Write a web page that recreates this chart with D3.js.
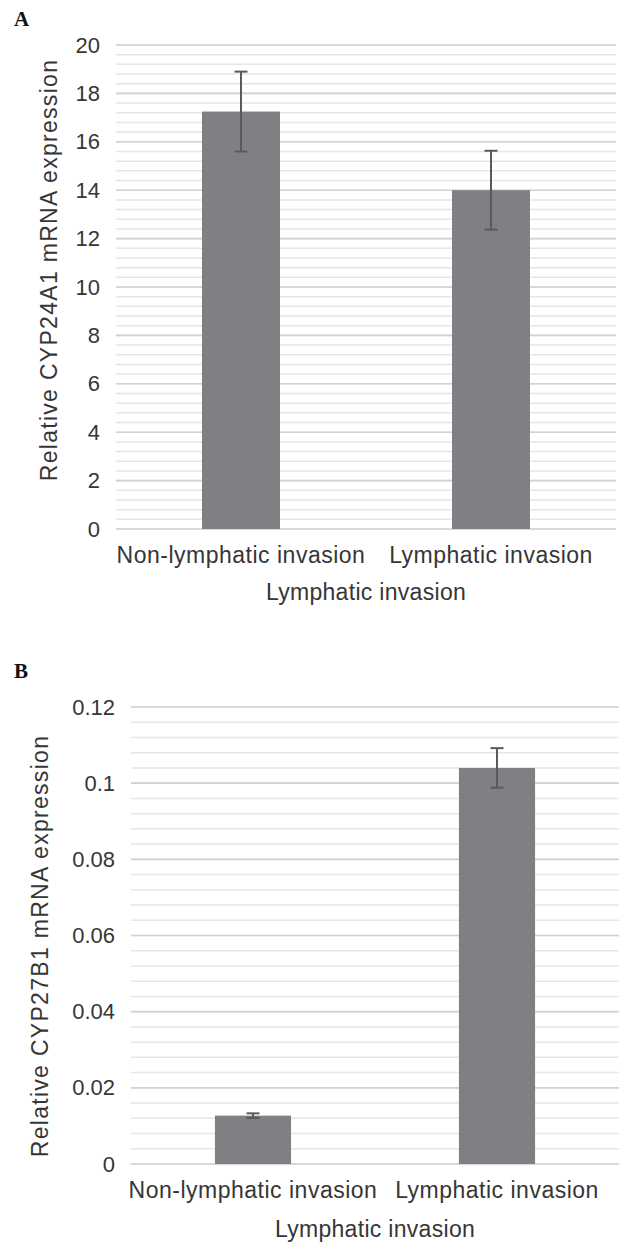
<!DOCTYPE html>
<html>
<head>
<meta charset="utf-8">
<script src="https://cdn.jsdelivr.net/npm/d3@7"></script>
<style>
  body { margin: 0; background: #fff; }
  svg text { font-family: "Liberation Sans", Arial, sans-serif; fill: #363636; }
</style>
</head>
<body>
<svg width="622" height="1242"></svg>
<script>
// Data
const categories = ["Non-lymphatic invasion", "Lymphatic invasion"];
const cyp24Means = [17.25, 14.0];
const cyp24Errors = [1.65, 1.63];
const cyp27Means = [0.0127, 0.104];
const cyp27Errors = [0.0006, 0.0052];
const cyp24Ticks = [0, 2, 4, 6, 8, 10, 12, 14, 16, 18, 20];
const cyp27Ticks = [0, 0.02, 0.04, 0.06, 0.08, 0.1, 0.12];
const cyp27TickLabels = ["0", "0.02", "0.04", "0.06", "0.08", "0.1", "0.12"];

const svg = d3.select("svg");

function drawPanel(cfg) {
  const g = svg.append("g");

  const x = d3.scaleBand()
    .domain(categories)
    .range([cfg.left, cfg.right])
    .paddingInner(0.688)
    .paddingOuter(0.344);

  const y = d3.scaleLinear().domain([0, cfg.max]).range([cfg.bottom, cfg.top]);

  // Minor gridlines (5 per major step)
  const minor = d3.range(0, cfg.max + cfg.minorStep / 2, cfg.minorStep);
  g.selectAll(".minor")
    .data(minor)
    .enter()
    .append("line")
    .attr("x1", cfg.left)
    .attr("x2", cfg.right)
    .attr("y1", (d) => y(d))
    .attr("y2", (d) => y(d))
    .attr("stroke", "#e6e6e6")
    .attr("stroke-width", 1.5);

  // Major gridlines
  g.selectAll(".major")
    .data(cfg.ticks)
    .enter()
    .append("line")
    .attr("x1", cfg.left)
    .attr("x2", cfg.right)
    .attr("y1", (d) => y(d))
    .attr("y2", (d) => y(d))
    .attr("stroke", "#d2d2d2")
    .attr("stroke-width", 1.6);

  // Bars
  g.selectAll(".bar")
    .data(cfg.means)
    .enter()
    .append("rect")
    .attr("x", (d, i) => x(categories[i]))
    .attr("width", x.bandwidth())
    .attr("y", (d) => y(d))
    .attr("height", (d) => y(0) - y(d))
    .attr("fill", "#7f8084");

  // Error bars
  const cx = (i) => x(categories[i]) + x.bandwidth() / 2;
  cfg.means.forEach((m, i) => {
    const e = cfg.errors[i];
    g.append("line")
      .attr("x1", cx(i)).attr("x2", cx(i))
      .attr("y1", y(m + e)).attr("y2", y(m - e))
      .attr("stroke", "#5a5a5c").attr("stroke-width", 2);
    [m + e, m - e].forEach((v) => {
      g.append("line")
        .attr("x1", cx(i) - 6.5).attr("x2", cx(i) + 6.5)
        .attr("y1", y(v)).attr("y2", y(v))
        .attr("stroke", "#5a5a5c").attr("stroke-width", 2);
    });
  });

  // Y axis labels
  const yAxis = g.append("g")
    .attr("transform", `translate(${cfg.left},0)`)
    .call(d3.axisLeft(y).tickValues(cfg.ticks).tickSize(0).tickPadding(16)
      .tickFormat((d, i) => cfg.tickLabels[i]));
  yAxis.select(".domain").remove();
  yAxis.selectAll("text").style("font-size", "22px").attr("fill", null);

  // X axis labels
  const xAxis = g.append("g")
    .attr("transform", `translate(0,${cfg.bottom})`)
    .call(d3.axisBottom(x).tickSize(0).tickPadding(18));
  xAxis.select(".domain").remove();
  xAxis.selectAll("text")
    .style("font-size", "23px")
    .style("letter-spacing", "0.5px")
    .attr("fill", null);

  // Axis titles
  g.append("text")
    .attr("x", (cfg.left + cfg.right) / 2)
    .attr("y", cfg.xTitleY)
    .attr("text-anchor", "middle")
    .style("font-size", "23px")
    .style("letter-spacing", "0.3px")
    .text("Lymphatic invasion");

  g.append("text")
    .attr("transform", `translate(${cfg.yTitleX},${cfg.yTitleCenter}) rotate(-90)`)
    .attr("text-anchor", "middle")
    .attr("dy", "0.35em")
    .style("font-size", "23px")
    .style("letter-spacing", "1.3px")
    .text(cfg.yTitle);

  // Panel letter
  g.append("text")
    .attr("x", 14)
    .attr("y", cfg.letterY)
    .style("font-family", "'Liberation Serif', 'Times New Roman', serif")
    .style("font-weight", "bold")
    .style("font-size", "21px")
    .style("fill", "#111")
    .text(cfg.letter);
}

drawPanel({
  letter: "A", letterY: 26,
  left: 116, right: 616, top: 45, bottom: 529,
  max: 20, minorStep: 0.4,
  ticks: cyp24Ticks, tickLabels: cyp24Ticks.map(String),
  means: cyp24Means, errors: cyp24Errors,
  yTitle: "Relative CYP24A1 mRNA expression", yTitleX: 49, yTitleCenter: 270,
  xTitleY: 600
});

drawPanel({
  letter: "B", letterY: 678,
  left: 131, right: 619, top: 707, bottom: 1164,
  max: 0.12, minorStep: 0.004,
  ticks: cyp27Ticks, tickLabels: cyp27TickLabels,
  means: cyp27Means, errors: cyp27Errors,
  yTitle: "Relative CYP27B1 mRNA expression", yTitleX: 40, yTitleCenter: 946,
  xTitleY: 1237
});
</script>
</body>
</html>
